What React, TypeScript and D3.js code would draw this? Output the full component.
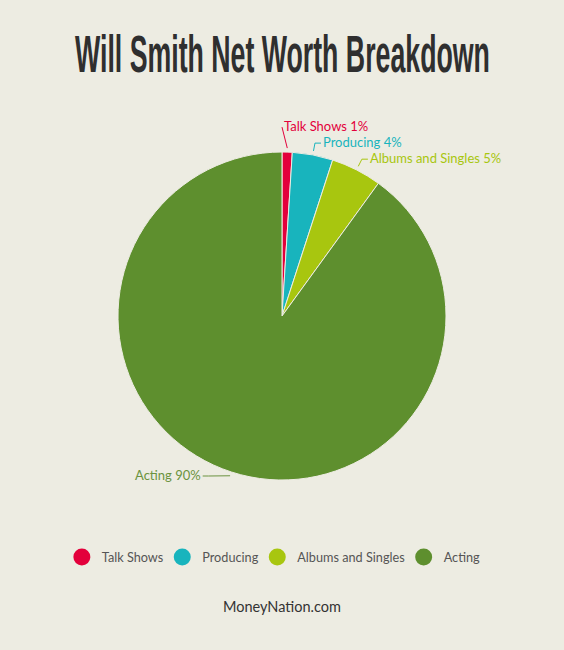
import { useEffect, useRef } from 'react';
import * as d3 from 'd3';

const categories = ['Talk Shows', 'Producing', 'Albums and Singles', 'Acting'];
const shares = [1, 4, 5, 90];
const colors = ['#e3003b', '#18b4bd', '#a8c60f', '#5e8f2e'];
const labelColors = ['#e3003b', '#18b4bd', '#a8c60f', '#6b9340'];

const W = 564;
const H = 650;
const BG = '#edece2';

export default function App() {
  const ref = useRef<SVGSVGElement | null>(null);
  useEffect(() => {
    document.body.style.margin = '0';
    document.body.style.background = BG;
    const svg = d3.select(ref.current!);
    svg.selectAll('*').remove();
    svg.append('rect').attr('width', W).attr('height', H).attr('fill', BG);

    // title: squeeze a bold sans horizontally to get the condensed look
    const title = svg.append('text').attr('x', 0).attr('y', 0)
      .attr('font-family', '"Liberation Sans", Arial, sans-serif')
      .attr('font-weight', 700).attr('font-size', 52).attr('fill', '#2f2f2f')
      .text('Will Smith Net Worth Breakdown');
    const tw = (title.node() as SVGTextElement).getComputedTextLength() || 800;
    title.attr('transform', `translate(75,72) scale(${415 / tw},1)`);

    const cx = 282, cy = 316, r = 164;
    const data = categories.map((c, i) => ({ name: c, value: shares[i], color: colors[i], label: labelColors[i] }));
    const pie = d3.pie<typeof data[0]>().value((d) => d.value).sort(null);
    const arcs = pie(data);
    const arc = d3.arc<d3.PieArcDatum<typeof data[0]>>().innerRadius(0).outerRadius(r);

    const g = svg.append('g').attr('transform', `translate(${cx},${cy})`);
    g.selectAll('path.slice').data(arcs).enter().append('path')
      .attr('class', 'slice').attr('d', arc as any)
      .attr('fill', (d) => d.data.color).attr('stroke', BG).attr('stroke-width', 1);

    // labels: just outside the rim, pushed apart and kept above the bottom band
    const R = r + 12;
    const gap = 16;
    const maxY = r - 4;
    const pts = arcs.map((a) => {
      const mid = (a.startAngle + a.endAngle) / 2;
      const side = Math.sin(mid) >= 0 ? 1 : -1;
      let y = -R * Math.cos(mid);
      let x = R * Math.sin(mid);
      let moved = false;
      if (y > maxY) {
        y = maxY;
        x = side * Math.sqrt(Math.max(0, R * R - y * y));
      }
      return { a, mid, side, x, y, moved };
    });
    const right = pts.filter((p) => p.side > 0).sort((p, q) => q.y - p.y);
    for (let i = 1; i < right.length; i++) {
      if (right[i - 1].y - right[i].y < gap) {
        right[i].y = right[i - 1].y - gap;
        right[i].x = Math.sqrt(Math.max(0, R * R - right[i].y * right[i].y));
        right[i].moved = true;
      }
    }

    pts.forEach((p) => {
      const sx = (r + 4) * Math.sin(p.mid);
      const sy = -(r + 4) * Math.cos(p.mid);
      const line: [number, number][] = p.moved
        ? [[sx, sy], [p.x, p.y]]
        : [[sx, sy], [p.x, p.y], [p.x + p.side * 6, p.y]];
      const end = line[line.length - 1];
      g.append('path').attr('d', d3.line()(line)!).attr('fill', 'none')
        .attr('stroke', p.a.data.label).attr('stroke-width', 1);
      g.append('text').attr('x', end[0] + p.side * 2).attr('y', end[1] + 4)
        .attr('text-anchor', p.side > 0 ? 'start' : 'end')
        .attr('font-family', 'Lato, "Open Sans", sans-serif').attr('font-size', 13)
        .attr('fill', p.a.data.label)
        .text(`${p.a.data.name} ${p.a.data.value}%`);
    });

    // legend
    const lg = svg.append('g');
    const items = lg.selectAll('g.item').data(data).enter().append('g').attr('class', 'item');
    items.append('circle').attr('r', 8.5).attr('fill', (d) => d.color);
    const texts = items.append('text').attr('x', 20).attr('y', 5)
      .attr('font-family', 'Lato, "Open Sans", sans-serif').attr('font-size', 12.7)
      .attr('fill', '#555').text((d) => d.name);
    let xo = 0;
    const offs: number[] = [];
    texts.each(function () {
      offs.push(xo);
      xo += 20 + (this as SVGTextElement).getComputedTextLength() + 19;
    });
    const total = xo - 19 + 8.5;
    const start = 276.5 - total / 2 + 8.5;
    items.attr('transform', (_, i) => `translate(${start + offs[i]},557)`);

    svg.append('text').attr('x', 282).attr('y', 612).attr('text-anchor', 'middle')
      .attr('font-family', 'Lato, "Open Sans", sans-serif').attr('font-size', 14.5)
      .attr('fill', '#333').text('MoneyNation.com');
  }, []);
  return <svg ref={ref} width={W} height={H} style={{ display: 'block' }} />;
}
